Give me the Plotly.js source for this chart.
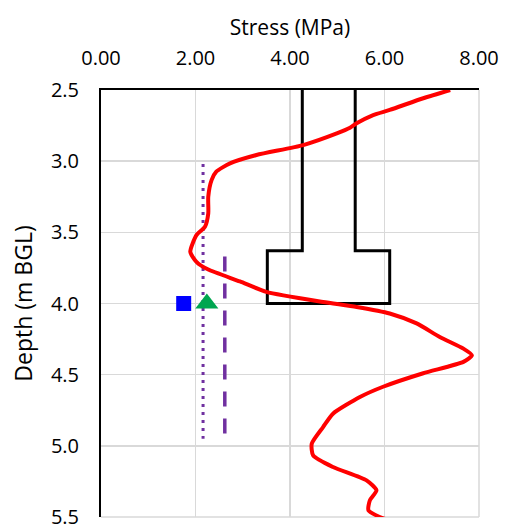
<!DOCTYPE html>
<html>
<head>
<meta charset="utf-8">
<script src="https://cdn.plot.ly/plotly-3.0.1.min.js"></script>
<style>html,body{margin:0;padding:0;background:#fff;}#chart{width:508px;height:526px;}</style>
</head>
<body>
<div id="chart"></div>
<script>
// Red measured stress profile
const profileStress = [7.39, 6.82, 6.11, 5.76, 5.41, 5.27, 4.99, 4.28, 3.29, 2.73, 2.44, 2.34, 2.27, 2.27, 2.20, 2.02, 1.89, 2.02, 2.26, 2.94, 3.50, 4.70, 5.41, 6.11, 6.68, 7.17, 7.67, 7.85, 7.67, 6.82, 5.97, 5.48, 4.91, 4.70, 4.46, 4.49, 4.91, 5.62, 5.83, 5.69, 5.66, 5.90, 6.07];
const profileDepth  = [2.50, 2.558, 2.64, 2.676, 2.734, 2.765, 2.805, 2.887, 2.957, 3.016, 3.074, 3.133, 3.25, 3.367, 3.461, 3.52, 3.637, 3.707, 3.76, 3.845, 3.918, 3.989, 4.024, 4.07, 4.14, 4.235, 4.317, 4.363, 4.41, 4.49, 4.585, 4.657, 4.774, 4.868, 4.985, 5.067, 5.149, 5.243, 5.313, 5.383, 5.453, 5.50, 5.52];

// Black pile outline
const pileStress = [4.26, 4.26, 3.52, 3.52, 6.11, 6.11, 5.38, 5.38];
const pileDepth  = [2.50, 3.63, 3.63, 4.00, 4.00, 3.63, 3.63, 2.50];

// Purple reference lines
const dottedStress = [2.16, 2.16];
const dottedDepth  = [3.02, 4.95];
const dashedStress = [2.62, 2.62];
const dashedDepth  = [3.67, 4.95];

// Single points
const squareStress = [1.75];
const squareDepth  = [4.00];
const triangleStress = [2.24];
const triangleDepth  = [4.00];

const xTicks = [0, 2, 4, 6, 8];
const yTicks = [2.5, 3.0, 3.5, 4.0, 4.5, 5.0, 5.5];

const font = 'Open Sans, Liberation Sans, sans-serif';

const traces = [
  {x: dottedStress, y: dottedDepth, mode: 'lines', line: {color: '#7030A0', width: 3, dash: '3px,5px'}, hoverinfo: 'skip'},
  {x: dashedStress, y: dashedDepth, mode: 'lines', line: {color: '#7030A0', width: 3.5, dash: '15px,12px'}, hoverinfo: 'skip'},
  {x: pileStress, y: pileDepth, mode: 'lines', line: {color: '#000000', width: 3}},
  {x: profileStress, y: profileDepth, mode: 'lines', line: {color: '#FF0000', width: 4, shape: 'spline', smoothing: 0.6}},
  {x: squareStress, y: squareDepth, mode: 'markers', marker: {symbol: 'square', color: '#0000FF', size: 15}},
  {x: triangleStress, y: triangleDepth, mode: 'markers', marker: {symbol: 'triangle-up', color: '#00A650', size: 20}}
];

const layout = {
  width: 508, height: 526,
  margin: {l: 101, r: 29, t: 90, b: 9},
  paper_bgcolor: '#ffffff', plot_bgcolor: 'rgba(0,0,0,0)',
  showlegend: false,
  font: {family: font, color: '#000000', size: 20},
  shapes: [
    {type: 'line', xref: 'paper', yref: 'paper', x0: 1, x1: 1, y0: 0, y1: 1, line: {color: '#D9D9D9', width: 1.5}, layer: 'below'},
    {type: 'line', xref: 'paper', yref: 'paper', x0: 0, x1: 1, y0: 0, y1: 0, line: {color: '#D9D9D9', width: 1.5}, layer: 'below'}
  ],
  xaxis: {
    side: 'top', range: [0, 8], tickvals: xTicks, tickformat: '.2f',
    showgrid: true, gridcolor: '#D9D9D9', gridwidth: 1.5,
    showline: true, linecolor: '#000000', linewidth: 2,
    zeroline: false, ticks: '', ticklabelstandoff: 15, ticklabeloverflow: 'allow',
    tickfont: {family: font, size: 20},
    title: {text: 'Stress (MPa)', font: {family: font, size: 21}, standoff: 3}
  },
  yaxis: {
    range: [5.50001, 2.5], tickvals: yTicks, tickformat: '.1f',
    showgrid: true, gridcolor: '#D9D9D9', gridwidth: 1.5,
    showline: true, linecolor: '#000000', linewidth: 2,
    zeroline: false, ticks: '', ticklabelstandoff: 16, ticklabeloverflow: 'allow',
    tickfont: {family: font, size: 20},
    title: {text: 'Depth (m BGL)', font: {family: font, size: 23}, standoff: 12}
  }
};

Plotly.newPlot('chart', traces, layout, {displayModeBar: false, staticPlot: true});
</script>
</body>
</html>
